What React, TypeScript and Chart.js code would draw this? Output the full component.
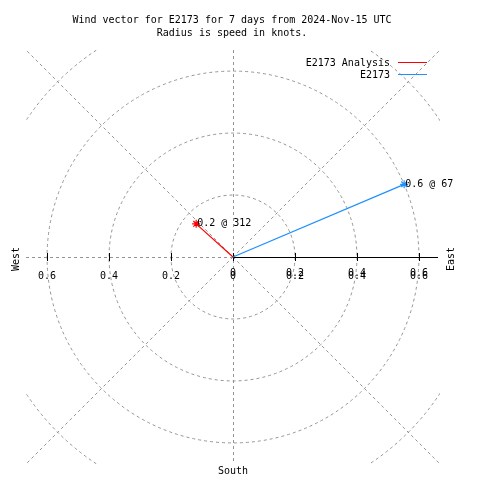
import React, { useEffect, useRef } from "react";
import { Chart, registerables } from "chart.js";

Chart.register(...registerables);

const TITLE_LINES = ["Wind vector for E2173 for 7 days from 2024-Nov-15 UTC", "Radius is speed in knots."];
const SERIES_NAMES = ["E2173 Analysis", "E2173"];
const SERIES_COLORS = ["#ff0000", "#1e90ff"];
const SPEEDS = [0.16, 0.6];
const DIRECTIONS = [312, 67];
const RINGS = [0.2, 0.4, 0.6, 0.8];
const TICK_VALUES = [-0.6, -0.4, -0.2, 0, 0.2, 0.4, 0.6];
const SPOKE_ANGLES = [45, 135, 225, 315];
const COMPASS_LABELS = ["West", "East", "South"];
const AXIS_MAX = 0.668;

const FONT = "10px 'DejaVu Sans Mono', 'Liberation Mono', monospace";
const GRID_COLOR = "#949494";

function endpoint(speed: number, dir: number) {
  const a = (dir * Math.PI) / 180;
  return { x: speed * Math.sin(a), y: speed * Math.cos(a) };
}

const polarPlugin = {
  id: "polarGrid",
  beforeDatasetsDraw(chart: any) {
    const { ctx, chartArea, scales } = chart;
    const xs = scales.x;
    const ys = scales.y;
    const cx = xs.getPixelForValue(0);
    const cy = ys.getPixelForValue(0);
    const unit = xs.getPixelForValue(1) - cx;
    ctx.save();
    ctx.beginPath();
    ctx.rect(chartArea.left, chartArea.top, chartArea.right - chartArea.left, chartArea.bottom - chartArea.top);
    ctx.clip();
    ctx.strokeStyle = GRID_COLOR;
    ctx.lineWidth = 1;
    ctx.setLineDash([3, 3]);
    RINGS.forEach((r) => {
      ctx.beginPath();
      ctx.arc(cx, cy, r * unit, 0, Math.PI * 2);
      ctx.stroke();
    });
    SPOKE_ANGLES.forEach((deg) => {
      const a = (deg * Math.PI) / 180;
      ctx.beginPath();
      ctx.moveTo(cx, cy);
      ctx.lineTo(cx + Math.sin(a) * 1000, cy - Math.cos(a) * 1000);
      ctx.stroke();
    });
    // vertical dashed axis
    ctx.beginPath();
    ctx.moveTo(Math.round(cx) + 0.5, chartArea.top);
    ctx.lineTo(Math.round(cx) + 0.5, chartArea.bottom);
    ctx.stroke();
    // left dashed axis
    ctx.beginPath();
    ctx.moveTo(chartArea.left, Math.round(cy) + 0.5);
    ctx.lineTo(cx, Math.round(cy) + 0.5);
    ctx.stroke();
    ctx.setLineDash([]);
    // right solid axis
    ctx.strokeStyle = "#000000";
    ctx.beginPath();
    ctx.moveTo(cx, Math.round(cy) + 0.5);
    ctx.lineTo(chartArea.right - 2, Math.round(cy) + 0.5);
    ctx.stroke();
    // ticks
    TICK_VALUES.forEach((v) => {
      const px = Math.round(xs.getPixelForValue(v)) + 0.5;
      ctx.beginPath();
      ctx.moveTo(px, cy - 4);
      ctx.lineTo(px, cy + 4);
      ctx.stroke();
    });
    ctx.restore();
  },
  afterDatasetsDraw(chart: any) {
    const { ctx, scales } = chart;
    const xs = scales.x;
    const ys = scales.y;
    const cx = xs.getPixelForValue(0);
    const cy = ys.getPixelForValue(0);
    ctx.save();
    ctx.font = FONT;
    ctx.fillStyle = "#000000";
    ctx.textBaseline = "middle";
    // point labels
    ctx.textAlign = "left";
    SPEEDS.forEach((s, i) => {
      const p = endpoint(s, DIRECTIONS[i]);
      const px = xs.getPixelForValue(p.x);
      const py = ys.getPixelForValue(p.y);
      ctx.fillText(`${s.toFixed(1)} @ ${DIRECTIONS[i]}`, px + 1, py);
    });
    // tick labels
    ctx.textAlign = "center";
    TICK_VALUES.forEach((v) => {
      const px = xs.getPixelForValue(v);
      const txt = v === 0 ? "0" : Math.abs(v).toFixed(1);
      ctx.fillText(txt, px, cy + 19);
      if (v >= 0) ctx.fillText(txt, px, cy + 16);
    });
    // compass labels
    ctx.save();
    ctx.translate(16, cy + 2);
    ctx.rotate(-Math.PI / 2);
    ctx.fillText(COMPASS_LABELS[0], 0, 0);
    ctx.restore();
    ctx.save();
    ctx.translate(451, cy + 2);
    ctx.rotate(-Math.PI / 2);
    ctx.fillText(COMPASS_LABELS[1], 0, 0);
    ctx.restore();
    ctx.fillText(COMPASS_LABELS[2], cx, 471);
    // title
    ctx.fillText(TITLE_LINES[0], 232, 20);
    ctx.fillText(TITLE_LINES[1], 232, 33);
    // legend
    ctx.textAlign = "right";
    SERIES_NAMES.forEach((name, i) => {
      const y = 63 + i * 12;
      ctx.fillStyle = "#000000";
      ctx.fillText(name, 390, y);
      ctx.strokeStyle = SERIES_COLORS[i];
      ctx.lineWidth = 1;
      ctx.beginPath();
      ctx.moveTo(398, y - 0.5);
      ctx.lineTo(427, y - 0.5);
      ctx.stroke();
    });
    ctx.restore();
  },
};

export default function App() {
  const canvasRef = useRef<HTMLCanvasElement | null>(null);

  useEffect(() => {
    if (!canvasRef.current) return;
    const chart = new Chart(canvasRef.current, {
      type: "scatter",
      data: {
        datasets: SERIES_NAMES.map((name, i) => {
          const p = endpoint(SPEEDS[i], DIRECTIONS[i]);
          return {
            label: name,
            data: [{ x: 0, y: 0 }, p],
            showLine: true,
            borderColor: SERIES_COLORS[i],
            backgroundColor: SERIES_COLORS[i],
            borderWidth: 1.2,
            pointStyle: "star",
            pointRadius: [0, 4],
            pointHoverRadius: [0, 4],
            pointBorderWidth: 1.2,
            pointBorderColor: SERIES_COLORS[i],
          };
        }),
      },
      options: {
        responsive: false,
        animation: false,
        layout: { padding: { left: 26, right: 40, top: 50, bottom: 16 } },
        scales: {
          x: { type: "linear", min: -AXIS_MAX, max: AXIS_MAX, display: false },
          y: { type: "linear", min: -AXIS_MAX, max: AXIS_MAX, display: false },
        },
        plugins: {
          legend: { display: false },
          tooltip: { enabled: false },
        },
        events: [],
      },
      plugins: [polarPlugin],
    } as any);
    return () => chart.destroy();
  }, []);

  return (
    <div style={{ position: "fixed", left: 0, top: 0, width: 480, height: 480, background: "#ffffff" }}>
      <canvas ref={canvasRef} width={480} height={480} style={{ width: 480, height: 480 }} />
    </div>
  );
}
